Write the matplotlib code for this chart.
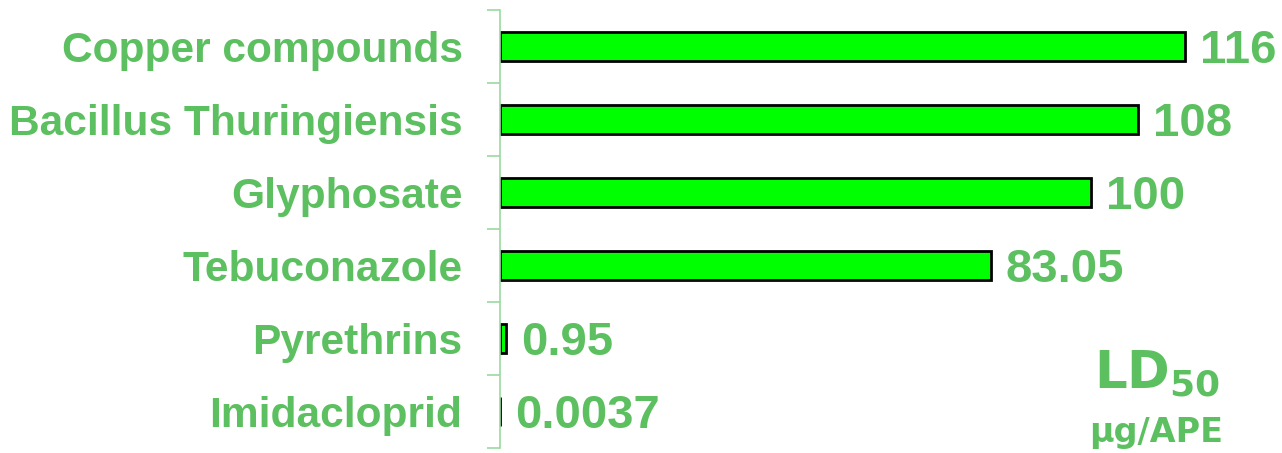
import matplotlib.pyplot as plt
import numpy as np

# LD50 values (ug per bee), top to bottom
pesticides = ["Copper compounds", "Bacillus Thuringiensis", "Glyphosate",
              "Tebuconazole", "Pyrethrins", "Imidacloprid"]
ld50 = [116, 108, 100, 83.05, 0.95, 0.0037]
value_labels = ["116", "108", "100", "83.05", "0.95", "0.0037"]

text_green = "#5cc060"
spine_green = "#9cd9a0"

fig = plt.figure(figsize=(12.82, 4.53), dpi=100)
ax = fig.add_axes([500 / 1282, 5 / 453, 782 / 1282, 438 / 453])

y = np.arange(len(pesticides))
ax.barh(y, ld50, height=0.4, color="#00ff00", edgecolor="black", linewidth=2)

ax.set_ylim(len(pesticides) - 0.5, -0.5)
ax.set_xlim(0, 132.4)

# value labels at the end of each bar
for i, (val, lab) in enumerate(zip(ld50, value_labels)):
    ax.annotate(lab, xy=(val, i), xytext=(11, 0), textcoords="offset points",
                ha="left", va="center_baseline", fontsize=34, fontweight="bold",
                color=text_green, family="Liberation Sans")

# category labels, with tick marks between categories
ax.set_yticks(y)
ax.set_yticklabels(pesticides, fontsize=30.6, fontweight="bold", color=text_green,
                   family="Liberation Sans")
ax.tick_params(axis="y", which="major", length=0, pad=27)
ax.set_yticks(np.arange(-0.5, len(pesticides)), minor=True)
ax.tick_params(axis="y", which="minor", length=9.5, width=1.2, color=spine_green)

ax.set_xticks([])
for side in ["top", "right", "bottom"]:
    ax.spines[side].set_visible(False)
ax.spines["left"].set_color(spine_green)
ax.spines["left"].set_linewidth(1.2)

# unit note in the lower right
fig.text(1157 / 1282, 1 - 388 / 453, r"$\mathbf{LD_{50}}$", fontsize=37,
         color=text_green, ha="center", va="baseline")
fig.text(1156 / 1282, 1 - 442 / 453, "µg/APE", fontsize=24, fontweight="bold",
         color=text_green, ha="center", va="baseline", family="DejaVu Sans")

fig.savefig("out.png", dpi=100)
